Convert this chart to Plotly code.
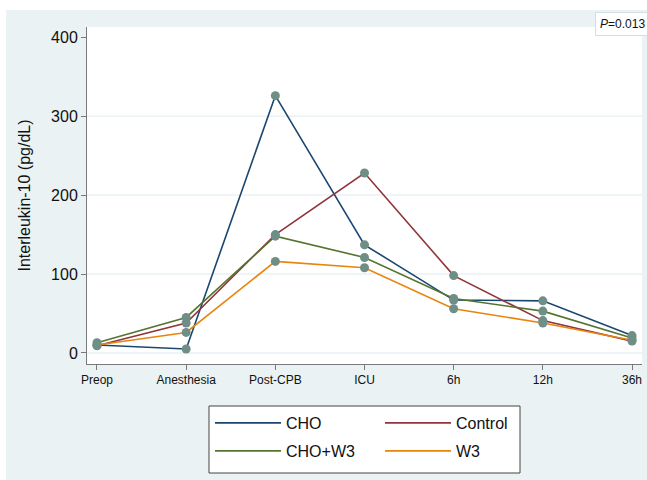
import plotly.graph_objects as go

categories = ["Preop", "Anesthesia", "Post-CPB", "ICU", "6h", "12h", "36h"]
cho = [10, 5, 326, 137, 67, 66, 22]
control = [9, 38, 150, 228, 98, 41, 15]
cho_w3 = [13, 45, 148, 121, 69, 53, 19]
w3 = [10, 26, 116, 108, 56, 38, 16]
y_ticks = [0, 100, 200, 300, 400]
grid_vals = [0, 100, 200, 300]
series_names = ["CHO", "Control", "CHO+W3", "W3"]
series_values = [cho, control, cho_w3, w3]
series_colors = ["#1A476F", "#90353B", "#55752F", "#E8850C"]
legend_ids = ["legend", "legend2", "legend3", "legend4"]

MARKER = "#6F8E86"
BG = "#EAF2F3"
FONT = "Liberation Sans, Arial, sans-serif"

W, H = 647, 480
ML, MR, MT, MB = 87, 5, 27, 116
PW, PH = W - ML - MR, H - MT - MB

def px(x):
    return (x - ML) / PW

def py(y):
    return (H - MB - y) / PH

fig = go.Figure()
xs = list(range(len(categories)))
for name, vals, col, lg in zip(series_names, series_values, series_colors, legend_ids):
    fig.add_trace(go.Scatter(x=xs, y=vals, mode="lines", name=name,
                             line=dict(color=col, width=1.6), legend=lg))
for name, vals in zip(series_names, series_values):
    fig.add_trace(go.Scatter(x=xs, y=vals, mode="markers", showlegend=False,
                             marker=dict(color=MARKER, size=9), name=name))

shapes = []
# white strips at top and left (outer image border)
shapes.append(dict(type="rect", xref="paper", yref="paper", x0=px(0), x1=px(W),
                   y0=py(10), y1=py(0), fillcolor="white", line=dict(width=0), layer="below"))
shapes.append(dict(type="rect", xref="paper", yref="paper", x0=px(0), x1=px(6),
                   y0=py(H), y1=py(0), fillcolor="white", line=dict(width=0), layer="below"))
for g in grid_vals:
    shapes.append(dict(type="line", xref="paper", yref="y", x0=0, x1=1, y0=g, y1=g,
                       line=dict(color=BG, width=1.5), layer="below"))
# legend box
shapes.append(dict(type="rect", xref="paper", yref="paper", x0=px(209), x1=px(520),
                   y0=py(473), y1=py(406), fillcolor="white",
                   line=dict(color="#444444", width=1), layer="below"))

legend_pos = {"legend": (210, 423), "legend2": (380, 423),
              "legend3": (210, 451), "legend4": (380, 451)}
leg_layout = {}
for lg, (lx, ly) in legend_pos.items():
    leg_layout[lg] = dict(x=px(lx), y=py(ly), xanchor="left", yanchor="middle",
                          bgcolor="rgba(0,0,0,0)", borderwidth=0, itemwidth=66,
                          font=dict(family=FONT, size=16, color="#111111"))

fig.update_layout(
    width=W, height=H,
    margin=dict(l=ML, r=MR, t=MT, b=MB, pad=0),
    paper_bgcolor=BG, plot_bgcolor="white",
    font=dict(family=FONT, color="#111111"),
    shapes=shapes,
    xaxis=dict(range=[-0.112, 6.112], tickmode="array", tickvals=xs, ticktext=categories,
               showgrid=False, zeroline=False, showline=True, linecolor="#7a7a7a", linewidth=1,
               ticks="outside", ticklen=5, tickcolor="#7a7a7a",
               tickfont=dict(family=FONT, size=12, color="#111111")),
    yaxis=dict(range=[-14, 413], tickmode="array", tickvals=y_ticks,
               showgrid=False, zeroline=False, showline=True, linecolor="#7a7a7a", linewidth=1,
               ticks="outside", ticklen=5, tickcolor="#7a7a7a",
               tickfont=dict(family=FONT, size=16, color="#111111"),
               title=dict(text="Interleukin-10 (pg/dL)", standoff=16,
                          font=dict(family=FONT, size=16, color="#111111"))),
    annotations=[dict(xref="paper", yref="paper", x=px(595), y=py(24), xanchor="left",
                      yanchor="middle", text="<i>P</i>=0.013", showarrow=False,
                      font=dict(family=FONT, size=12, color="#111111"),
                      bgcolor="white", bordercolor="#d3dfe2", borderwidth=1, borderpad=4)],
    **leg_layout,
)

fig.write_html("out.html", config={"displayModeBar": False},
               post_script="document.body.style.margin='0px';document.body.style.overflow='hidden';")
